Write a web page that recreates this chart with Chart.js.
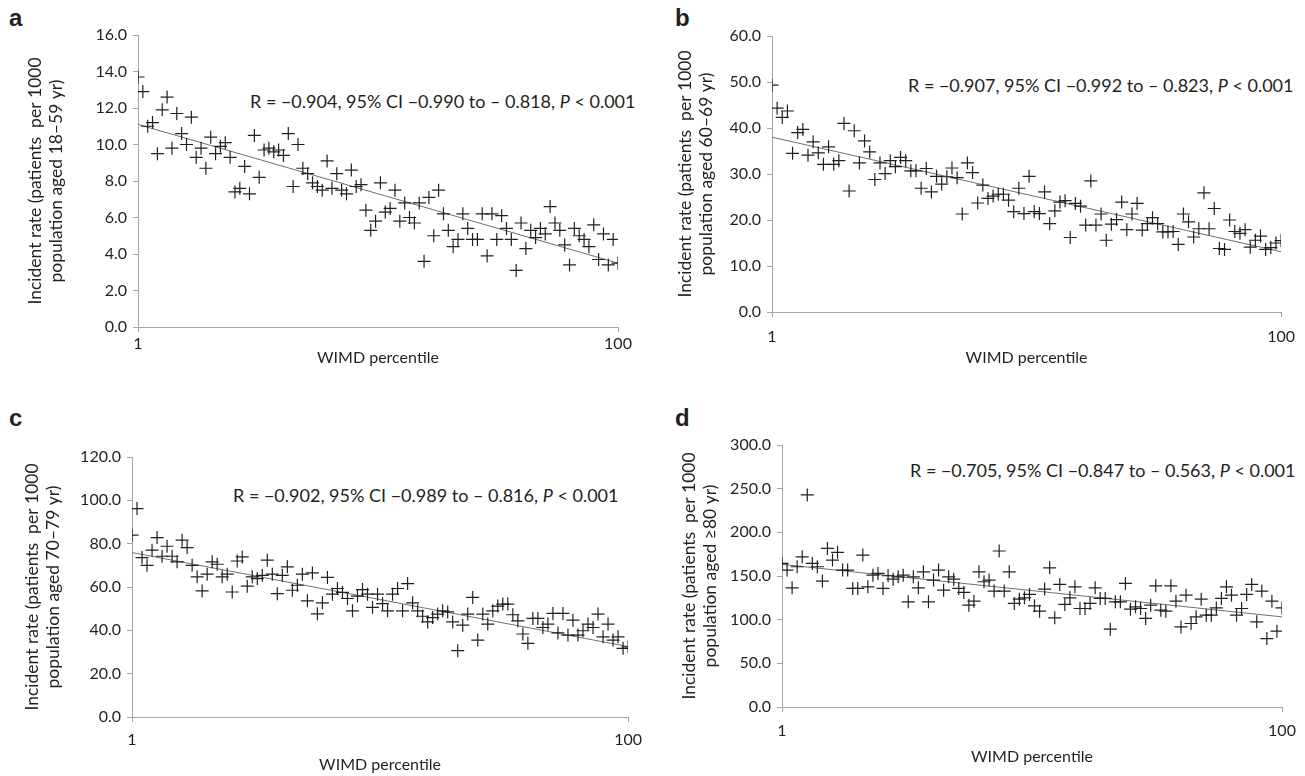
<!DOCTYPE html>
<html>
<head>
<meta charset="utf-8">
<script src="https://cdn.jsdelivr.net/npm/chart.js@4.4.1/dist/chart.umd.min.js"></script>
<style>
  body { margin: 0; background: #fff; width: 1305px; height: 776px; overflow: hidden; position: relative; font-family: Lato, sans-serif; color: #231f20; }
  canvas { position: absolute; }
  .letter { position: absolute; font-family: "Liberation Sans", Arial, sans-serif; font-weight: bold; font-size: 24px; line-height: 24px; }
  .rtext { position: absolute; font-size: 18px; line-height: 18px; white-space: pre; }
</style>
</head>
<body>
<div class="letter" style="left:9px;top:6px">a</div>
<div class="letter" style="left:675px;top:6px">b</div>
<div class="letter" style="left:9px;top:406px">c</div>
<div class="letter" style="left:675px;top:406px">d</div>

<div class="rtext" style="left:250px;top:92px">R = −0.904, 95% CI −0.990 to – 0.818, <i>P</i> &lt; 0.001</div>
<div class="rtext" style="left:908px;top:76px">R = −0.907, 95% CI −0.992 to – 0.823, <i>P</i> &lt; 0.001</div>
<div class="rtext" style="left:233px;top:486px">R = −0.902, 95% CI −0.989 to – 0.816, <i>P</i> &lt; 0.001</div>
<div class="rtext" style="left:910px;top:461px">R = −0.705, 95% CI −0.847 to – 0.563, <i>P</i> &lt; 0.001</div>

<canvas id="chartA" width="640" height="375" style="left:0px;top:0px"></canvas>
<canvas id="chartB" width="655" height="375" style="left:650px;top:0px"></canvas>
<canvas id="chartC" width="650" height="376" style="left:0px;top:400px"></canvas>
<canvas id="chartD" width="655" height="376" style="left:650px;top:400px"></canvas>

<script>
// WIMD percentile (x), 1..100
const percentile = [1,2,3,4,5,6,7,8,9,10,11,12,13,14,15,16,17,18,19,20,21,22,23,24,25,26,27,28,29,30,31,32,33,34,35,36,37,38,39,40,41,42,43,44,45,46,47,48,49,50,51,52,53,54,55,56,57,58,59,60,61,62,63,64,65,66,67,68,69,70,71,72,73,74,75,76,77,78,79,80,81,82,83,84,85,86,87,88,89,90,91,92,93,94,95,96,97,98,99,100];
const xTicks = [1, 100];

// a: aged 18-59
const rateA = [13.7,12.9,11.0,11.2,9.5,11.9,12.6,9.8,11.7,10.6,
  10.0,11.5,9.3,9.8,8.7,10.4,9.5,9.9,10.1,9.3,
  7.4,7.6,8.8,7.3,10.5,8.2,9.7,9.8,9.6,9.7,
  9.4,10.6,7.7,10.0,8.7,8.4,7.9,7.7,7.5,9.1,
  7.6,8.4,7.5,7.3,8.6,7.7,7.8,6.4,5.3,5.8,
  7.9,6.3,6.5,7.5,5.8,6.8,6.0,5.7,6.8,3.6,
  7.1,5.0,7.5,6.2,5.3,4.4,4.8,6.2,5.4,4.8,
  4.8,6.2,3.9,6.2,4.8,6.1,5.4,4.8,3.1,5.7,
  4.3,5.3,4.9,5.4,5.1,6.6,5.7,5.3,4.5,3.4,
  5.4,5.0,4.8,4.4,5.6,3.7,5.1,3.4,4.8,3.5];
const trendA = [11.1, 3.5];

// b: aged 60-69
const rateB = [49.3,44.3,42.3,43.7,34.5,39.0,39.7,34.1,37.0,34.6,
  32.1,35.9,32.1,32.9,41.0,26.3,39.4,32.4,37.2,34.8,
  28.8,32.4,30.1,32.9,31.6,33.6,32.9,30.7,30.7,26.9,
  31.2,26.1,29.5,27.8,29.4,31.3,29.2,21.3,32.4,30.3,
  23.7,27.6,24.7,25.2,25.6,25.6,24.3,21.8,26.9,21.4,
  29.5,21.8,21.4,26.1,19.2,22.0,23.9,24.2,16.2,23.6,
  23.0,18.9,28.5,18.9,21.3,15.6,19.1,20.1,23.9,17.9,
  21.3,23.6,17.8,19.2,20.5,19.2,17.4,17.4,17.5,14.7,
  21.3,19.6,16.3,18.1,25.9,18.1,22.5,13.8,13.6,20.0,
  17.5,17.1,17.9,14.1,15.6,16.5,13.6,14.0,15.0,15.5];
const trendB = [38.0, 13.1];

// c: aged 70-79
const rateC = [83.9,96.2,73.6,70.0,77.0,82.8,74.2,78.8,74.2,71.6,
  81.6,78.2,70.0,64.7,58.2,65.9,71.6,70.5,64.7,65.9,
  57.7,72.0,73.9,60.4,64.7,63.9,65.4,72.4,65.9,56.9,
  65.4,69.3,58.5,60.8,65.9,53.6,66.5,47.6,52.7,64.4,
  56.7,59.3,57.5,54.7,49.0,55.8,58.8,56.7,50.6,56.7,
  52.3,49.0,56.7,59.3,49.0,61.6,52.7,49.0,46.5,43.9,
  45.9,47.5,49.0,48.5,43.9,30.6,42.4,47.5,55.2,35.5,
  47.5,42.9,49.0,51.2,52.1,52.1,47.2,44.4,38.3,34.0,
  45.5,45.5,41.3,42.9,47.8,38.8,47.8,37.8,44.7,37.8,
  39.8,42.9,41.3,47.5,37.0,42.9,35.5,37.0,31.7,32.4];
const trendC = [75.9, 32.5];

// d: aged >=80
const rateD = [164.4,156.8,136.5,160.6,172.0,242.8,164.4,160.6,144.2,181.6,
  168.2,177.1,156.8,156.8,135.8,135.8,174.0,137.6,151.0,153.0,
  135.8,150.3,146.4,149.0,151.0,120.4,149.0,136.5,154.8,120.4,
  145.3,156.8,133.8,149.1,146.4,135.8,131.2,116.6,121.2,154.8,
  143.4,145.3,132.7,178.6,132.7,154.8,118.6,123.5,125.0,128.9,
  115.8,109.7,135.0,159.4,102.1,140.4,117.4,125.0,137.6,112.8,
  112.8,118.6,136.5,124.3,124.3,89.1,120.4,120.4,141.5,112.0,
  114.7,112.8,101.4,116.6,138.8,110.9,109.7,138.8,121.2,91.7,
  128.1,95.6,103.2,123.5,105.1,105.1,113.5,124.3,137.6,128.1,
  105.1,112.8,128.9,140.4,97.5,132.7,78.4,121.2,86.8,113.5];
const trendD = [163.3, 103.2];

const yTitleTop = "Incident rate (patients  per 1000";
const ink = "#231f20";
const axisGrey = "#a6a6a6";

function makePanel(p) {
  const font = { family: "Lato", size: 16 };
  return new Chart(document.getElementById(p.id), {
    type: "scatter",
    data: {
      datasets: [
        {
          data: percentile.map((x, i) => ({ x: x, y: p.values[i] })),
          pointStyle: "cross",
          pointRadius: 6.5,
          pointHoverRadius: 6.5,
          borderColor: ink,
          borderWidth: 1.2,
        },
        {
          data: [{ x: xTicks[0], y: p.trend[0] }, { x: xTicks[1], y: p.trend[1] }],
          showLine: true,
          pointRadius: 0,
          borderColor: "#6f6f6f",
          borderWidth: 1,
        },
      ],
    },
    options: {
      responsive: false,
      animation: false,
      devicePixelRatio: 1,
      layout: { padding: { top: p.padTop, right: p.padRight, left: 0, bottom: 0 } },
      plugins: { legend: { display: false }, tooltip: { enabled: false } },
      scales: {
        x: {
          type: "linear",
          min: 1,
          max: 100,
          afterBuildTicks: (s) => { s.ticks = xTicks.map((v) => ({ value: v })); },
          afterFit: (s) => { s.height = p.xHeight; },
          grid: { drawOnChartArea: false, tickLength: 5, color: axisGrey },
          border: { color: axisGrey },
          ticks: { font: font, color: ink, padding: p.xTickPad, maxRotation: 0, autoSkip: false },
          title: { display: true, text: "WIMD percentile", font: font, color: ink, padding: { top: 0, bottom: p.xTitlePad } },
        },
        y: {
          min: 0,
          max: p.yMax,
          afterFit: (s) => { s.width = p.yWidth; },
          grid: { drawOnChartArea: false, tickLength: 5, color: axisGrey },
          border: { color: axisGrey },
          ticks: { stepSize: p.yStep, callback: (v) => v.toFixed(1), font: font, color: ink, padding: 6 },
          title: {
            display: true,
            text: [yTitleTop, p.yTitle2],
            font: { family: "Lato", size: 17.5, lineHeight: 1.2 },
            color: ink,
            padding: { top: p.yTitlePad, bottom: 0 },
          },
        },
      },
    },
  });
}

makePanel({ id: "chartA", values: rateA, trend: trendA, yMax: 16, yStep: 2, yTitle2: "population aged 18–59 yr)",
  padTop: 35, padRight: 22, yWidth: 138, xHeight: 48, xTickPad: 2, xTitlePad: 8, yTitlePad: 25 });
makePanel({ id: "chartB", values: rateB, trend: trendB, yMax: 60, yStep: 10, yTitle2: "population aged 60–69 yr)",
  padTop: 36, padRight: 23, yWidth: 122, xHeight: 63, xTickPad: 10, xTitlePad: 8, yTitlePad: 25 });
makePanel({ id: "chartC", values: rateC, trend: trendC, yMax: 120, yStep: 20, yTitle2: "population aged 70–79 yr)",
  padTop: 57, padRight: 20, yWidth: 132, xHeight: 59, xTickPad: 8, xTitlePad: 2, yTitlePad: 22 });
makePanel({ id: "chartD", values: rateD, trend: trendD, yMax: 300, yStep: 50, yTitle2: "population aged ≥80 yr)",
  padTop: 45, padRight: 23, yWidth: 132, xHeight: 69, xTickPad: 9, xTitlePad: 10, yTitlePad: 29 });
</script>
</body>
</html>
